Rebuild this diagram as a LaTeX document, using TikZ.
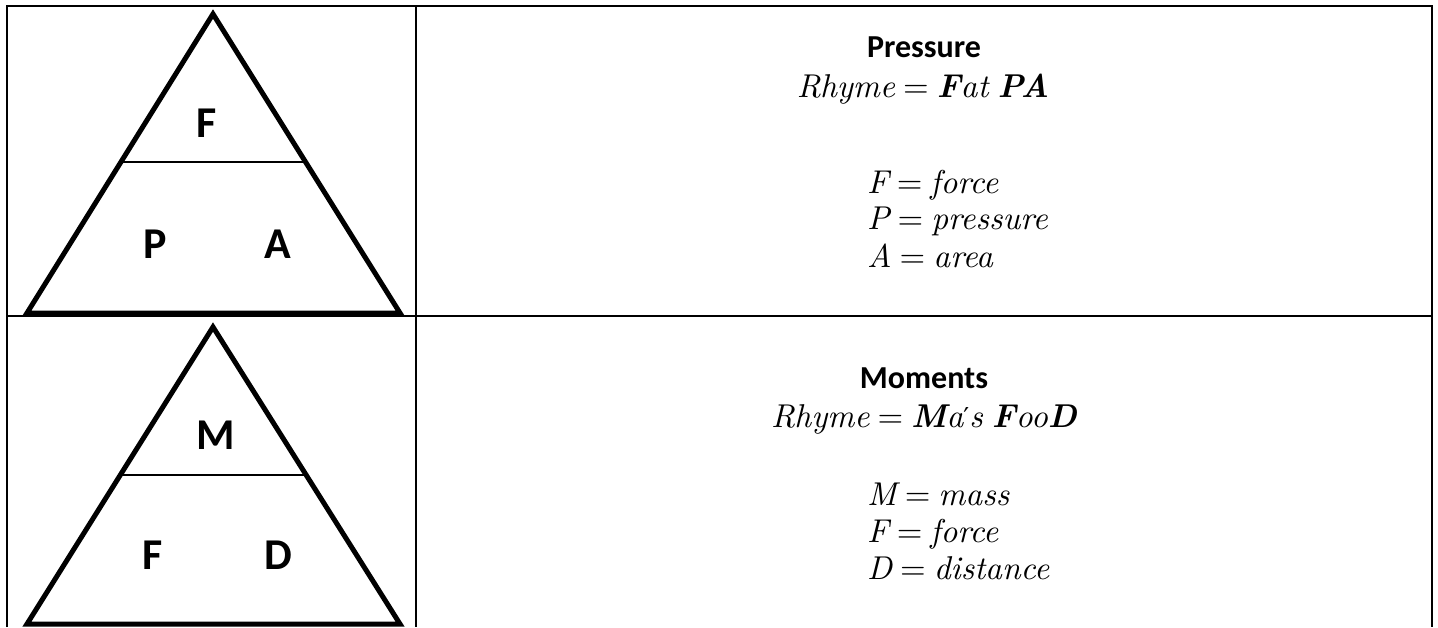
\documentclass[tikz,border=0pt]{standalone}
\usepackage{fontspec}
\setmainfont{Carlito}
\newfontfamily\lmr{lmroman10}[Extension=.otf, UprightFont=*-regular, ItalicFont=*-italic, BoldFont=*-bold, BoldItalicFont=*-bolditalic]
\newfontfamily\dvs{DejaVu Serif}
\newcommand{\mv}[1]{{\lmr\itshape #1}}
\newcommand{\mb}[1]{{\lmr\bfseries\itshape #1}}
\newcommand{\meq}{\hspace{8pt}{\lmr\upshape =}\hspace{8pt}}
\newcommand{\msp}{\hspace{9pt}}
\newcommand{\mprime}{{\dvs\fontsize{26}{30}\selectfont\raisebox{1pt}{′}}}
\begin{document}
\begin{tikzpicture}[x=1pt,y=-1pt,
  tri/.style={line width=5pt, line join=miter},
  sepline/.style={line width=1.4pt},
  gridline/.style={line width=1.6pt},
  letter/.style={font=\fontsize{44}{46}\selectfont\bfseries, inner sep=0pt},
  titletxt/.style={font=\fontsize{32}{36}\selectfont\bfseries, inner sep=0pt, anchor=base},
  rhymetxt/.style={font=\fontsize{33}{36}\selectfont, inner sep=0pt, anchor=base},
  deftxt/.style={font=\fontsize{33}{36}\selectfont, inner sep=0pt, anchor=base west}]
\useasboundingbox (0,0) rectangle (1438,627);
\fill[white] (0,0) rectangle (1438,627);
% table grid
\draw[gridline] (7,627) -- (7,6) -- (1432,6) -- (1432,627);
\draw[gridline] (416,6) -- (416,627);
\draw[gridline] (7,316) -- (1432,316);
% triangle 1
\draw[tri] (213,14) -- (400,313) -- (27,313) -- cycle;
\draw[sepline] (122,162) -- (304,162);
\node[letter] (f1) at (207,123) {F};
\node[letter] (p1) at (155,244) {P};
\node[letter] (a1) at (278,244) {A};
% triangle 2
\draw[tri] (213,327) -- (400,624) -- (27,624) -- cycle;
\draw[sepline] (122,475) -- (304,475);
\node[letter] (m2) at (216,435) {M};
\node[letter] (f2) at (153,555) {F};
\node[letter] (d2) at (278,555) {D};
% right column, row 1
\node[titletxt] (t1) at (924,57) {Pressure};
\node[rhymetxt] (r1) at (923,97) {\mv{Rhyme}\meq\mb{F}\mv{at}\msp\mb{PA}};
\node[deftxt] (d11) at (867,193) {\mv{F}\meq\mv{force}};
\node[deftxt] (d12) at (867,229) {\mv{P}\meq\mv{pressure}};
\node[deftxt] (d13) at (867,267) {\mv{A}\meq\mv{area}};
% right column, row 2
\node[titletxt] (t2) at (924,388) {Moments};
\node[rhymetxt] (r2) at (924,427) {\mv{Rhyme}\meq\mb{M}\mv{a}\mprime\mv{s}\msp\mb{F}\mv{oo}\mb{D}};
\node[deftxt] (d21) at (867,505) {\mv{M}\meq\mv{mass}};
\node[deftxt] (d22) at (867,542) {\mv{F}\meq\mv{force}};
\node[deftxt] (d23) at (867,579) {\mv{D}\meq\mv{distance}};
\end{tikzpicture}
\end{document}
